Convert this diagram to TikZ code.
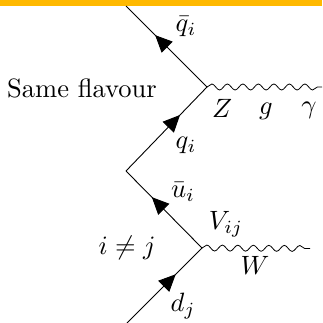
\documentclass[tikz,border=0pt]{standalone}
\usetikzlibrary{decorations.markings,decorations.pathmorphing,arrows.meta}
\definecolor{band}{RGB}{255,185,0}
\tikzset{
  lab/.style={scale=2.65,inner sep=0pt,text=black},
  fermion/.style={draw=black,line width=0.9pt,postaction={decorate},decoration={markings,
    mark=at position #1 with {\arrow[black]{Stealth[length=17pt,width=15.5pt,inset=0pt]}}}},
  boson/.style={draw=black,line width=0.8pt,decorate,decoration={snake,amplitude=3pt,segment length=15.5pt}}
}
\begin{document}
\begin{tikzpicture}[x=1pt,y=-1pt]
\useasboundingbox (0,0) rectangle (322,323);
\fill[band] (0,0) rectangle (322,6.5);
\coordinate (top) at (126,6);
\coordinate (v1) at (207,87);
\coordinate (mid) at (126,171);
\coordinate (v2) at (202,248);
\coordinate (bot) at (127,323);
\coordinate (e1) at (322,87);
\coordinate (e2) at (310,248.5);
\path[fermion=0.64] (v1) -- (top);
\path[fermion=0.667] (mid) -- (v1);
\path[fermion=0.66] (v2) -- (mid);
\path[fermion=0.65] (bot) -- (v2);
\path[boson] (v1) -- (e1);
\path[boson] (v2) -- (e2);
\node[lab] (qbar) at (186,27) {$\bar q_i$};
\node[lab] (q) at (186,145) {$q_i$};
\node[lab] (same) at (82,88) {Same flavour};
\node[lab] (Z) at (222,108) {$Z$};
\node[lab] (g) at (266,111) {$g$};
\node[lab] (gam) at (309,110) {$\gamma$};
\node[lab] (ubar) at (183,192) {$\bar u_i$};
\node[lab] (V) at (226,224) {$V_{ij}$};
\node[lab] (neq) at (127,248) {$i\neq j$};
\node[lab] (W) at (255,265) {$W$};
\node[lab] (d) at (183,306) {$d_j$};
\end{tikzpicture}
\end{document}
